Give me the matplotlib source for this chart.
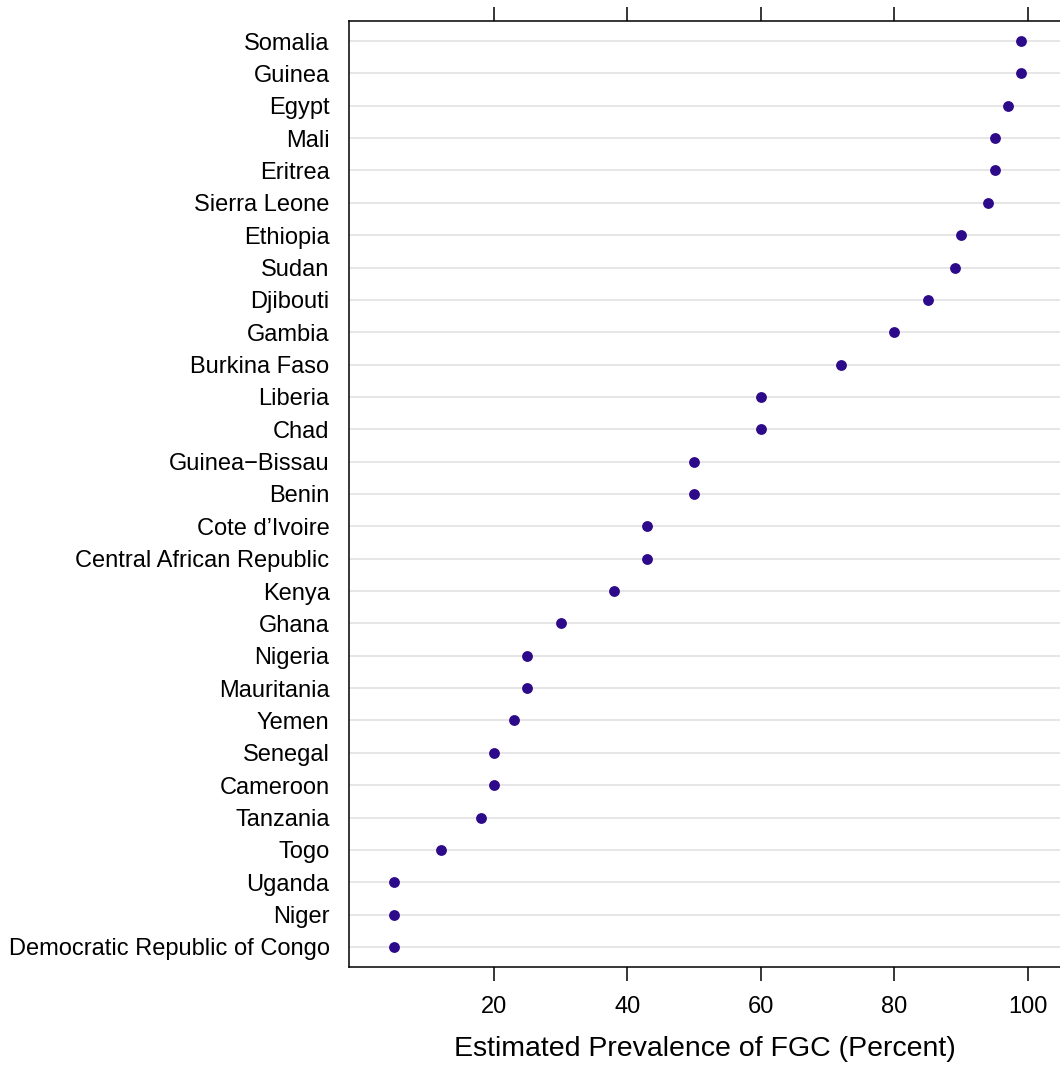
import matplotlib
matplotlib.use("Agg")
import matplotlib.pyplot as plt

plt.rcParams['font.family'] = ['Liberation Sans', 'DejaVu Sans']

# countries from top to bottom, with estimated prevalence (%)
countries = ["Somalia", "Guinea", "Egypt", "Mali", "Eritrea", "Sierra Leone",
             "Ethiopia", "Sudan", "Djibouti", "Gambia", "Burkina Faso",
             "Liberia", "Chad", "Guinea\u2212Bissau", "Benin", "Cote d\u2019Ivoire",
             "Central African Republic", "Kenya", "Ghana", "Nigeria",
             "Mauritania", "Yemen", "Senegal", "Cameroon", "Tanzania", "Togo",
             "Uganda", "Niger", "Democratic Republic of Congo"]
prevalence = [99, 99, 97, 95, 95, 94, 90, 89, 85, 80, 72, 60, 60, 50, 50, 43,
              43, 38, 30, 25, 25, 23, 20, 20, 18, 12, 5, 5, 5]
xticks = [20, 40, 60, 80, 100]

fig = plt.figure(figsize=(10.6, 10.67), dpi=100)
ax = fig.add_axes([349 / 1060, 1 - 967 / 1067, 711 / 1060, 946 / 1067])

n = len(countries)
ypos = list(range(n, 0, -1))

for y in ypos:
    ax.axhline(y, color='#e6e6e6', lw=1.4, zorder=1)
ax.plot(prevalence, ypos, 'o', color='#2d0a8a', ms=7.8, mec='none', zorder=3)

ax.set_xlim(-1.72, 104.8)
ax.set_ylim(0.38, n + 0.62)
ax.set_yticks(ypos)
ax.set_yticklabels(countries, fontsize=17)
ax.tick_params(axis='y', length=0, pad=14)

ax.set_xticks(xticks)
ax.set_xticklabels([str(t) for t in xticks], fontsize=17)
ax.tick_params(axis='x', length=10, width=1.1, direction='out', top=True,
               bottom=True, labeltop=False, pad=11, color='black')
ax.set_xlabel("Estimated Prevalence of FGC (Percent)", fontsize=20.5, labelpad=13)

for s in ax.spines.values():
    s.set_linewidth(1.1)
ax.spines['right'].set_visible(False)

fig.savefig("out.png", dpi=100)
